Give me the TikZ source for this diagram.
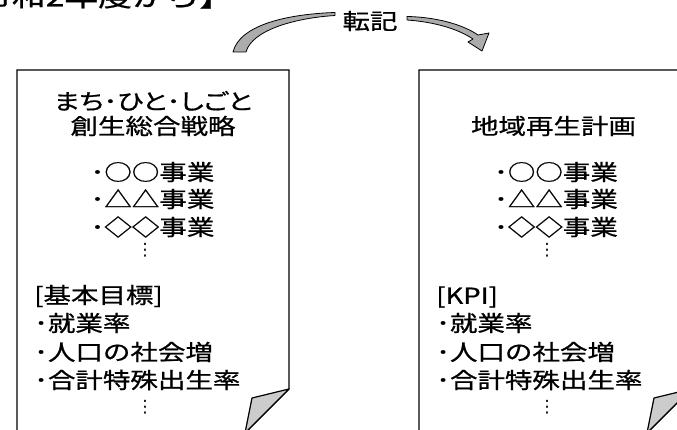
\documentclass[tikz,border=0pt]{standalone}
\usepackage{fontspec}
\usepackage{graphicx}
\setmainfont[FakeBold=0.7]{Noto Sans CJK JP}
\newfontfamily\dotsfont{DejaVu Sans}
\newfontfamily\paltfont[RawFeature=+palt,FakeBold=0.7]{Noto Sans CJK JP}
\newcommand{\sx}[1]{\scalebox{1.25}[1]{#1}}
\tikzset{
  page/.style={draw=black, line width=1.2pt, fill=white, line join=miter},
  flap/.style={draw=black, line width=1.2pt, fill=gray!40, line join=round},
  curvearrow/.style={draw=black, line width=0.8pt, fill=gray!65, line join=round},
  txt/.style={inner sep=0pt, font=\fontsize{22}{26}\selectfont},
  hdrtxt/.style={inner sep=0pt, font=\fontsize{27}{30}\selectfont},
  vdot/.style={inner sep=0pt, font=\dotsfont\fontsize{17}{20}\selectfont},
}
\begin{document}
\begin{tikzpicture}[x=1pt,y=-1pt]
\useasboundingbox (0,0) rectangle (677,430);
% header (cut off at top and left, as in the reference)
\node[hdrtxt, anchor=west] (hdr) at (-22,-4) {\sx{令和2年度から】}};
% left page
\draw[page] (17,445) -- (17,70) -- (289,70) -- (289,389) -- (245,433);
\draw[flap] (289,389) -- (252,398) -- (245,433) -- cycle;
% right page
\draw[page] (419,445) -- (419,70) -- (691,70) -- (691,389) -- (647,433);
\draw[flap] (691,389) -- (654,398) -- (647,433) -- cycle;
% transfer label and arrows
\node[txt] (lbl) at (370,21) {\sx{転記}};
\draw[curvearrow] (335,12.5) .. controls (290,14) and (240,24) .. (233,52)
  -- (246,52) .. controls (252,30) and (295,18) .. (335,15.5) -- cycle;
\draw[curvearrow] (407,16.5) .. controls (435,17) and (462,24) .. (478,35)
  -- (489,33) -- (482,51) -- (468,42) -- (473,39)
  .. controls (458,29) and (435,22) .. (407,20) -- cycle;
% left page text
\node[txt] (l1) at (153,101) {\sx{\paltfont まち･ひと･しごと}};
\node[txt] (l2) at (153,126) {\sx{創生総合戦略}};
\node[txt] (l3) at (152.5,172) {\sx{･○○事業}};
\node[txt] (l4) at (152.5,199) {\sx{･△△事業}};
\node[txt] (l5) at (152.5,227) {\sx{･◇◇事業}};
\node[vdot] (l6) at (145,250) {⋮};
\node[txt, anchor=west] (l7) at (34,296) {\sx{[基本目標]}};
\node[txt, anchor=west] (l8) at (34,323) {\sx{･就業率}};
\node[txt, anchor=west] (l9) at (34,352) {\sx{･人口の社会増}};
\node[txt, anchor=west] (l10) at (34,380) {\sx{･合計特殊出生率}};
\node[vdot] (l11) at (145,407) {⋮};
% right page text
\node[txt] (r1) at (553.5,126) {\sx{地域再生計画}};
\node[txt] (r3) at (556,172) {\sx{･○○事業}};
\node[txt] (r4) at (556,199) {\sx{･△△事業}};
\node[txt] (r5) at (556,227) {\sx{･◇◇事業}};
\node[vdot] (r6) at (547,250) {⋮};
\node[txt, anchor=west] (r7) at (436,297) {\sx{[KPI]}};
\node[txt, anchor=west] (r8) at (436,323) {\sx{･就業率}};
\node[txt, anchor=west] (r9) at (436,352) {\sx{･人口の社会増}};
\node[txt, anchor=west] (r10) at (436,380) {\sx{･合計特殊出生率}};
\node[vdot] (r11) at (547,407) {⋮};
\end{tikzpicture}
\end{document}
